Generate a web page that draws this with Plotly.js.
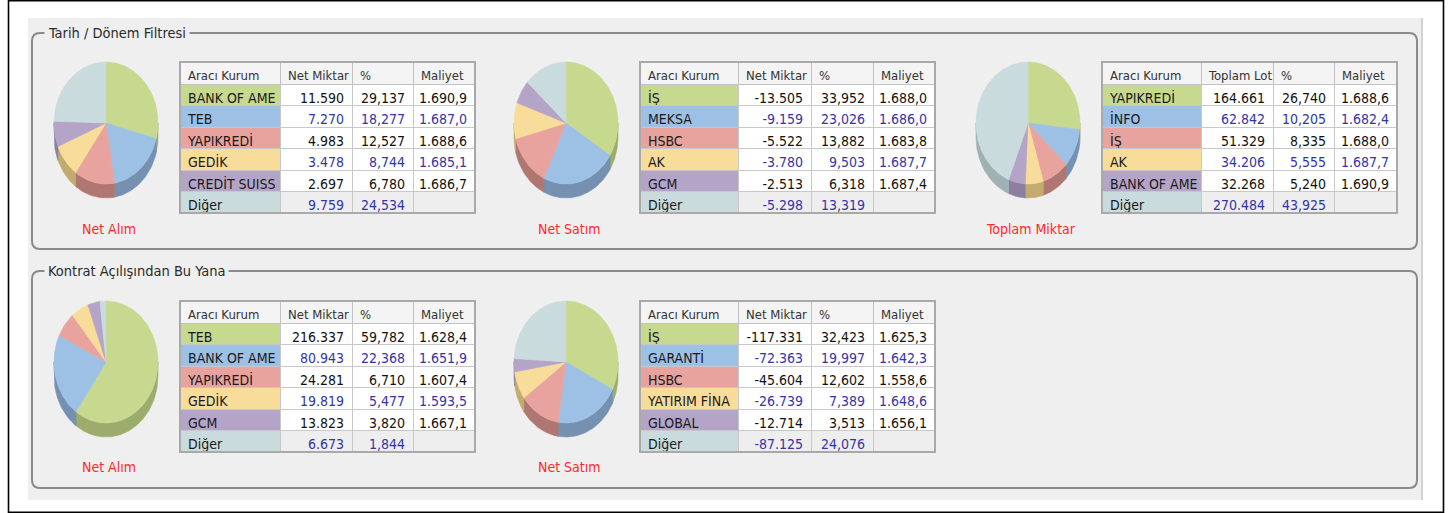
<!DOCTYPE html>
<html><head><meta charset="utf-8">
<script src="https://cdn.plot.ly/plotly-3.0.1.min.js"></script>
<style>html,body{margin:0;padding:0;background:#fff}</style>
</head><body><div id="chart" style="width:1448px;height:513px"></div>
<script>
const W = 1448, H = 513;

// ---------------- DATA ----------------
const groupTitles = ["Tarih / Dönem Filtresi", "Kontrat Açılışından Bu Yana"];
const pieLabels = ["Net Alım", "Net Satım", "Toplam Miktar", "Net Alım", "Net Satım"];
const headerNet = ["Aracı Kurum", "Net Miktar", "%", "Maliyet"];
const headerLot = ["Aracı Kurum", "Toplam Lot", "%", "Maliyet"];

const t1Names = ["BANK OF AME", "TEB", "YAPIKREDİ", "GEDİK", "CREDİT SUISS", "Diğer"];
const t1Net = [11590, 7270, 4983, 3478, 2697, 9759];
const t1Pct = [29.137, 18.277, 12.527, 8.744, 6.780, 24.534];
const t1Cost = [1690.9, 1687.0, 1688.6, 1685.1, 1686.7, null];

const t2Names = ["İŞ", "MEKSA", "HSBC", "AK", "GCM", "Diğer"];
const t2Net = [-13505, -9159, -5522, -3780, -2513, -5298];
const t2Pct = [33.952, 23.026, 13.882, 9.503, 6.318, 13.319];
const t2Cost = [1688.0, 1686.0, 1683.8, 1687.7, 1687.4, null];

const t3Names = ["YAPIKREDİ", "İNFO", "İŞ", "AK", "BANK OF AME", "Diğer"];
const t3Lot = [164661, 62842, 51329, 34206, 32268, 270484];
const t3Pct = [26.740, 10.205, 8.335, 5.555, 5.240, 43.925];
const t3Cost = [1688.6, 1682.4, 1688.0, 1687.7, 1690.9, null];

const t4Names = ["TEB", "BANK OF AME", "YAPIKREDİ", "GEDİK", "GCM", "Diğer"];
const t4Net = [216337, 80943, 24281, 19819, 13823, 6673];
const t4Pct = [59.782, 22.368, 6.710, 5.477, 3.820, 1.844];
const t4Cost = [1628.4, 1651.9, 1607.4, 1593.5, 1667.1, null];

const t5Names = ["İŞ", "GARANTİ", "HSBC", "YATIRIM FİNA", "GLOBAL", "Diğer"];
const t5Net = [-117331, -72363, -45604, -26739, -12714, -87125];
const t5Pct = [32.423, 19.997, 12.602, 7.389, 3.513, 24.076];
const t5Cost = [1625.3, 1642.3, 1558.6, 1648.6, 1656.1, null];

// ---------------- STYLE ----------------
const sliceColors = ["#c6d98f", "#9dc0e5", "#e9a39e", "#f8dc9a", "#b4a5c8", "#c9dbdc"];
const sideColors  = ["#9cac6c", "#7590b0", "#b07672", "#c2ab6e", "#8c7fa0", "#9fb1b2"];
const FONT = "'DejaVu Sans Condensed', 'DejaVu Sans', sans-serif";
const BLUE = "#3434a8", BLACK = "#111111";

function fmt(v, dec) {
  if (v === null || v === undefined) return "";
  const neg = v < 0;
  let s = Math.abs(v).toFixed(dec);
  let parts = s.split(".");
  let i = parts[0].replace(/\B(?=(\d{3})+(?!\d))/g, ".");
  return (neg ? "-" : "") + i + (parts[1] ? "," + parts[1] : "");
}
const nb = s => s.replace(/ /g, "\u00a0");
const px2x = p => p / W;
const px2y = p => 1 - p / H;

const panels = [
  {names: t1Names, qty: t1Net, pct: t1Pct, cost: t1Cost, header: headerNet, cx: 106, cy: 123, tx: [180, 475], ty: 62, cw: [100, 72, 61, 62], ly: 229},
  {names: t2Names, qty: t2Net, pct: t2Pct, cost: t2Cost, header: headerNet, cx: 566, cy: 123, tx: [640, 935], ty: 62, cw: [98, 73, 62, 62], ly: 229},
  {names: t3Names, qty: t3Lot, pct: t3Pct, cost: t3Cost, header: headerLot, cx: 1028, cy: 123, tx: [1102, 1397], ty: 62, cw: [99, 72, 61, 63], ly: 229},
  {names: t4Names, qty: t4Net, pct: t4Pct, cost: t4Cost, header: headerNet, cx: 106, cy: 362, tx: [180, 475], ty: 301, cw: [100, 72, 61, 62], ly: 467},
  {names: t5Names, qty: t5Net, pct: t5Pct, cost: t5Cost, header: headerNet, cx: 566, cy: 362, tx: [640, 935], ty: 301, cw: [98, 73, 62, 62], ly: 467}
];

const RX = 52, RY = 61, DEPTH = 14;
const traces = [];
const layout = {
  width: W, height: H, margin: {l: 0, r: 0, t: 0, b: 0},
  paper_bgcolor: "#ffffff", plot_bgcolor: "rgba(0,0,0,0)",
  showlegend: false, font: {family: FONT},
  shapes: [], annotations: []
};

panels.forEach((p, k) => {
  const n = k + 1;
  const xa = "x" + (n === 1 ? "" : n), ya = "y" + (n === 1 ? "" : n);
  layout["xaxis" + (n === 1 ? "" : n)] = {domain: [px2x(p.cx - 70), px2x(p.cx + 70)], range: [-70, 70], visible: false, fixedrange: true, anchor: ya};
  layout["yaxis" + (n === 1 ? "" : n)] = {domain: [px2y(p.cy + 95), px2y(p.cy - 75)], range: [-95, 75], visible: false, fixedrange: true, anchor: xa};

  const vals = p.qty.map(Math.abs);
  const total = vals.reduce((a, b) => a + b, 0);
  const sides = [], tops = [];
  let a0 = 0;
  vals.forEach((v, i) => {
    const a1 = a0 + v / total * 2 * Math.PI;
    const steps = Math.max(3, Math.ceil((a1 - a0) / 0.02));
    const xs = [0], ys = [0];
    for (let s = 0; s <= steps; s++) {
      const t = a0 + (a1 - a0) * s / steps;
      xs.push(RX * Math.sin(t)); ys.push(RY * Math.cos(t));
    }
    xs.push(0); ys.push(0);
    tops.push({type: "scatter", mode: "lines", x: xs, y: ys, fill: "toself", fillcolor: sliceColors[i],
      line: {width: 0.6, color: sliceColors[i]}, xaxis: xa, yaxis: ya, hoverinfo: "skip", showlegend: false});
    const s0 = Math.max(a0, Math.PI / 2), s1 = Math.min(a1, 1.5 * Math.PI);
    if (s1 > s0) {
      const sx = [], sy = [], bx = [], by = [];
      const st = Math.max(3, Math.ceil((s1 - s0) / 0.02));
      for (let s = 0; s <= st; s++) {
        const t = s0 + (s1 - s0) * s / st;
        sx.push(RX * Math.sin(t)); sy.push(RY * Math.cos(t));
        bx.push(RX * Math.sin(t)); by.push(RY * Math.cos(t) - DEPTH);
      }
      const qx = sx.concat(bx.reverse()), qy = sy.concat(by.reverse());
      qx.push(sx[0]); qy.push(sy[0]);
      sides.push({type: "scatter", mode: "lines", x: qx, y: qy, fill: "toself", fillcolor: sideColors[i],
        line: {width: 0.6, color: sideColors[i]}, xaxis: xa, yaxis: ya, hoverinfo: "skip", showlegend: false});
    }
    a0 = a1;
  });
  sides.forEach(t => traces.push(t));
  tops.forEach(t => traces.push(t));

  // table
  const qtyStr = p.qty.map(v => fmt(v, 0));
  const pctStr = p.pct.map(v => fmt(v, 3));
  const costStr = p.cost.map(v => fmt(v, 1));
  const rowFontColor = p.names.map((_, i) => i % 2 === 0 ? BLACK : BLUE);
  const dataFill = p.names.map((_, i) => i === p.names.length - 1 ? "#eeeeee" : "#ffffff");
  const tableH = 22 + 6 * 21.5;
  traces.push({
    type: "table",
    domain: {x: [px2x(p.tx[0]), px2x(p.tx[1])], y: [px2y(p.ty + tableH + 12), px2y(p.ty)]},
    columnwidth: p.cw,
    header: {
      values: p.header.map(nb), align: "left", height: 22,
      fill: {color: "#f4f4f4"}, line: {color: "#c2c2c2", width: 1},
      font: {family: FONT, size: 13, color: "#333333"}
    },
    cells: {
      values: [p.names.map(nb), qtyStr, pctStr, costStr],
      align: ["left", "right", "right", "right"], height: 21.5,
      fill: {color: [sliceColors, dataFill, dataFill, dataFill]},
      line: {color: "#c8c8c8", width: 1},
      font: {family: FONT, size: 14, color: [p.names.map(() => "#1a1a1a"), rowFontColor, rowFontColor, rowFontColor]}
    }
  });
  layout.shapes.push({type: "rect", xref: "paper", yref: "paper", layer: "above",
    x0: px2x(p.tx[0]), x1: px2x(p.tx[1]), y0: px2y(p.ty + tableH), y1: px2y(p.ty),
    line: {color: "#a9a9a9", width: 2}, fillcolor: "rgba(0,0,0,0)"});

  layout.annotations.push({xref: "paper", yref: "paper", x: px2x(p.cx + 3), y: px2y(p.ly), text: pieLabels[k],
    showarrow: false, xanchor: "center", yanchor: "middle", font: {family: FONT, size: 14, color: "#ff2a2a"}});
});

// ---------------- DECORATION ----------------
function roundRect(x0, y0, x1, y1, r) {
  const X = v => px2x(v).toFixed(6), Y = v => px2y(v).toFixed(6);
  return `M ${X(x0 + r)},${Y(y0)} L ${X(x1 - r)},${Y(y0)} Q ${X(x1)},${Y(y0)} ${X(x1)},${Y(y0 + r)} ` +
    `L ${X(x1)},${Y(y1 - r)} Q ${X(x1)},${Y(y1)} ${X(x1 - r)},${Y(y1)} L ${X(x0 + r)},${Y(y1)} ` +
    `Q ${X(x0)},${Y(y1)} ${X(x0)},${Y(y1 - r)} L ${X(x0)},${Y(y0 + r)} Q ${X(x0)},${Y(y0)} ${X(x0 + r)},${Y(y0)} Z`;
}
layout.shapes.unshift(
  {type: "rect", xref: "paper", yref: "paper", layer: "below", x0: px2x(28), x1: px2x(1423), y0: px2y(500), y1: px2y(18),
    fillcolor: "#efefef", line: {width: 0}},
  {type: "line", xref: "paper", yref: "paper", layer: "below", x0: px2x(1422), x1: px2x(1422), y0: px2y(500), y1: px2y(18),
    line: {color: "#d2d2d2", width: 2}},
  {type: "rect", xref: "paper", yref: "paper", layer: "below", x0: px2x(8.5), x1: px2x(1443.5), y0: px2y(512.2), y1: px2y(0.8),
    fillcolor: "rgba(0,0,0,0)", line: {color: "#000000", width: 1.6}},
  {type: "path", xref: "paper", yref: "paper", layer: "below", path: roundRect(32, 33, 1417, 249, 8),
    line: {color: "#8a8a8a", width: 2}, fillcolor: "rgba(0,0,0,0)"},
  {type: "path", xref: "paper", yref: "paper", layer: "below", path: roundRect(32, 271, 1417, 488, 8),
    line: {color: "#8a8a8a", width: 2}, fillcolor: "rgba(0,0,0,0)"}
);
[[33, groupTitles[0]], [271, groupTitles[1]]].forEach(([y, txt]) => {
  layout.annotations.push({xref: "paper", yref: "paper", x: px2x(44), y: px2y(y), text: txt, showarrow: false,
    xanchor: "left", yanchor: "middle", bgcolor: "#efefef", borderpad: 3,
    font: {family: FONT, size: 14.5, color: "#2a2a2a"}});
});

Plotly.newPlot("chart", traces, layout, {displayModeBar: false, staticPlot: true});
</script>
</body></html>
